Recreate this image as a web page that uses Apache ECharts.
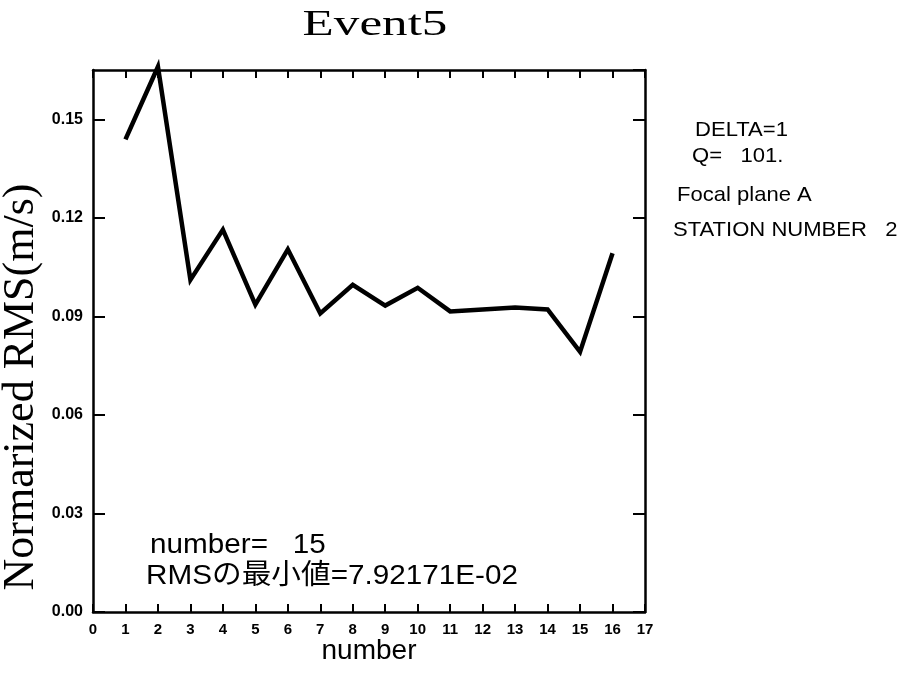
<!DOCTYPE html>
<html>
<head>
<meta charset="utf-8">
<script src="https://cdn.jsdelivr.net/npm/echarts@6/dist/echarts.min.js"></script>
<style>
html,body{margin:0;padding:0;background:#fff;}
#chart{width:918px;height:676px;}
</style>
</head>
<body>
<div id="chart"></div>
<script>
// ---- data ----
var numbers = [1, 2, 3, 4, 5, 6, 7, 8, 9, 10, 11, 12, 13, 14, 15, 16];
var rmsValues = [0.1439, 0.1660, 0.1011, 0.1164, 0.0936, 0.1104, 0.0909, 0.0996,
                 0.0933, 0.0987, 0.0915, 0.0921, 0.0927, 0.0921, 0.0792, 0.1092];
var titleText = 'Event5';
var xAxisName = 'number';
var yAxisName = 'Normarized RMS(m/s)';
var infoLines = ['DELTA=1', 'Q=   101.', 'Focal plane A', 'STATION NUMBER   2'];
var noteLines = ['number=   15', 'RMSの最小値=7.92171E-02'];

var seriesData = numbers.map(function (n, i) { return [n, rmsValues[i]]; });

var chart = echarts.init(document.getElementById('chart'), null, {renderer: 'canvas'});
var sans = '"Liberation Sans", Arial, "Noto Sans CJK JP", sans-serif';
var serif = '"Liberation Serif", "Times New Roman", serif';

var axisLine = {show: true, onZero: false, lineStyle: {color: '#000', width: 2.5}};

function txt(x, y, text, size, family, sx) {
  return {type: 'text', x: x, y: y, scaleX: sx || 1, originX: 0, originY: 0,
    style: {text: text, font: size + 'px ' + family, fill: '#000', align: 'left', verticalAlign: 'middle'}};
}

var option = {
  backgroundColor: '#fff',
  animation: false,
  grid: {left: 93, right: 273, top: 70, bottom: 64, containLabel: false, outerBoundsMode: 'none'},
  xAxis: [{
    type: 'value', min: 0, max: 17, interval: 1, position: 'bottom',
    name: xAxisName, nameLocation: 'middle', nameGap: 25, nameMoveOverlap: false,
    nameTextStyle: {fontFamily: sans, fontSize: 28, color: '#000'},
    axisLine: axisLine,
    axisTick: {show: true, inside: true, length: 8, lineStyle: {color: '#000', width: 2}},
    axisLabel: {show: true, margin: 10, fontFamily: sans, fontWeight: 'bold', fontSize: 15, color: '#000'},
    splitLine: {show: false}
  }, {
    type: 'value', min: 0, max: 17, interval: 1, position: 'top',
    axisLine: axisLine,
    axisTick: {show: true, inside: true, length: 8, lineStyle: {color: '#000', width: 2}},
    axisLabel: {show: false},
    splitLine: {show: false}
  }],
  yAxis: [{
    type: 'value', min: 0, max: 0.165, interval: 0.03, position: 'left',
    name: yAxisName, nameLocation: 'middle', nameGap: 50, nameRotate: 90, nameMoveOverlap: false,
    nameTextStyle: {fontFamily: serif, fontSize: 44, color: '#000', padding: [0, 92, 0, 0]},
    axisLine: axisLine,
    axisTick: {show: true, inside: true, length: 12, lineStyle: {color: '#000', width: 2}},
    axisLabel: {show: true, margin: 10, showMaxLabel: false, fontFamily: sans, fontWeight: 'bold', fontSize: 16, color: '#000',
      formatter: function (v) { return v.toFixed(2); }},
    splitLine: {show: false}
  }, {
    type: 'value', min: 0, max: 0.165, interval: 0.03, position: 'right',
    axisLine: axisLine,
    axisTick: {show: true, inside: true, length: 12, lineStyle: {color: '#000', width: 2}},
    axisLabel: {show: false},
    splitLine: {show: false}
  }],
  series: [{
    type: 'line',
    xAxisIndex: 0, yAxisIndex: 0,
    data: seriesData,
    showSymbol: false,
    symbol: 'none',
    clip: false,
    lineStyle: {color: '#000', width: 4.5, join: 'miter'}
  }],
  graphic: [
    {type: 'text', x: 375, y: 26, scaleX: 1.42, originX: 0, originY: 0,
      style: {text: titleText, font: '36px ' + serif, fill: '#000', align: 'center', verticalAlign: 'middle'}},
    txt(695, 130, infoLines[0], 21, sans, 1.05),
    txt(692, 156, infoLines[1], 21, sans, 1.05),
    txt(677, 195, infoLines[2], 21, sans, 1.05),
    txt(673, 230, infoLines[3], 21, sans, 1.05),
    txt(150, 545, noteLines[0], 28, sans, 1.06),
    txt(146, 576, noteLines[1], 28, sans, 1.06)
  ]
};
chart.setOption(option);
</script>
</body>
</html>
